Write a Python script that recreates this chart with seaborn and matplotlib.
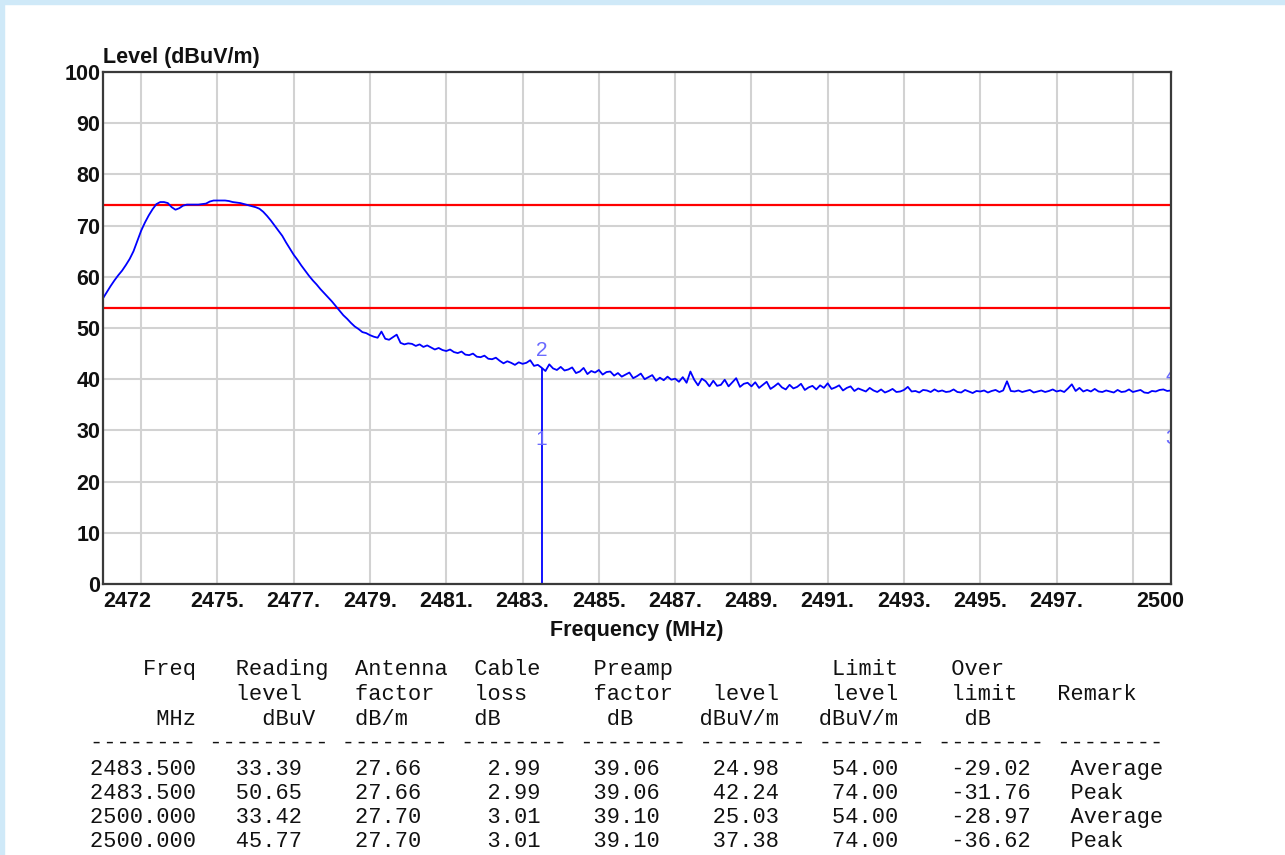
import numpy as np
import matplotlib
matplotlib.use("Agg")
import matplotlib.pyplot as plt
from matplotlib.patches import Rectangle
from matplotlib.transforms import ScaledTranslation
import seaborn as sns

# ---- sweep: 2472.0 .. 2500.0 MHz, 0.1 MHz steps ----
sweep_start = 2472.0
sweep_step = 0.1
trace_level = [
    55.8, 57.0, 58.2, 59.3, 60.3, 61.2, 62.3, 63.5, 65.0, 67.0,   # 2472
    69.0, 70.6, 72.0, 73.2, 74.2, 74.6, 74.6, 74.4, 73.6, 73.1,   # 2473
    73.4, 73.9, 74.1, 74.1, 74.1, 74.1, 74.2, 74.3, 74.7, 74.9,   # 2474
    74.9, 74.9, 74.9, 74.8, 74.6, 74.5, 74.4, 74.2, 74.0, 73.8,   # 2475
    73.6, 73.3, 72.7, 71.9, 71.0, 70.0, 69.0, 68.0, 66.7, 65.5,   # 2476
    64.3, 63.3, 62.2, 61.2, 60.2, 59.3, 58.5, 57.6, 56.8, 56.0,   # 2477
    55.2, 54.3, 53.4, 52.5, 51.8, 51.0, 50.3, 49.8, 49.2, 49.0,   # 2478
    48.6, 48.3, 48.1, 49.3, 47.9, 47.7, 48.2, 48.7, 47.1, 46.8,   # 2479
    47.0, 46.9, 46.5, 46.8, 46.3, 46.6, 46.2, 45.8, 46.1, 45.7,   # 2480
    45.5, 45.8, 45.3, 45.1, 45.4, 44.8, 44.7, 45.0, 44.4, 44.3,   # 2481
    44.6, 44.0, 43.9, 44.2, 43.6, 43.1, 43.5, 43.2, 42.8, 43.3,   # 2482
    43.0, 43.2, 43.7, 42.6, 42.8, 42.24, 41.6, 42.9, 42.1, 41.8,  # 2483
    42.4, 41.7, 41.9, 42.3, 41.2, 41.5, 42.2, 41.0, 41.6, 41.3,   # 2484
    41.8, 40.9, 41.4, 41.5, 40.7, 41.2, 40.5, 40.9, 41.3, 40.2,   # 2485
    40.6, 41.1, 40.0, 40.4, 40.8, 39.7, 40.3, 39.8, 40.5, 39.9,   # 2486
    40.1, 39.5, 40.4, 39.3, 41.5, 39.9, 38.8, 40.1, 39.6, 38.6,   # 2487
    39.7, 38.7, 38.9, 39.9, 38.6, 39.4, 40.2, 38.5, 39.1, 39.3,   # 2488
    38.6, 39.4, 38.3, 38.9, 39.5, 38.1, 38.6, 39.2, 38.4, 38.0,   # 2489
    38.9, 38.2, 38.5, 39.1, 37.9, 38.4, 38.7, 38.0, 38.8, 38.3,   # 2490
    39.2, 38.1, 38.4, 38.8, 37.8, 38.3, 38.6, 37.7, 38.2, 37.9,   # 2491
    37.6, 38.3, 37.8, 37.5, 38.0, 37.4, 37.7, 38.1, 37.5, 37.6,   # 2492
    37.9, 38.5, 37.6, 37.7, 37.4, 37.9, 37.8, 37.5, 38.0, 37.6,   # 2493
    37.8, 37.5, 37.6, 38.0, 37.5, 37.4, 37.9, 37.6, 37.3, 37.7,   # 2494
    37.6, 37.8, 37.4, 37.7, 37.9, 37.5, 37.8, 39.6, 37.7, 37.6,   # 2495
    37.8, 37.5, 37.7, 37.9, 37.4, 37.6, 37.8, 37.5, 37.7, 38.0,   # 2496
    37.6, 37.8, 37.5, 38.2, 39.0, 37.7, 38.3, 37.6, 37.9, 37.6,   # 2497
    38.1, 37.6, 37.5, 37.8, 37.6, 37.4, 37.9, 37.5, 37.6, 38.0,   # 2498
    37.5, 37.7, 37.9, 37.4, 37.3, 37.7, 37.6, 37.9, 38.0, 37.7,   # 2499
    37.8,                                                          # 2500
]
trace_freq = sweep_start + sweep_step * np.arange(len(trace_level))

# ---- marker table ----
marker_no = ["1", "2", "3", "4"]
freq_mhz = [2483.500, 2483.500, 2500.000, 2500.000]
reading_dbuv = [33.39, 50.65, 33.42, 45.77]
antenna_factor = [27.66, 27.66, 27.70, 27.70]
cable_loss = [2.99, 2.99, 3.01, 3.01]
preamp_factor = [39.06, 39.06, 39.10, 39.10]
level_dbuvm = [24.98, 42.24, 25.03, 37.38]
limit_dbuvm = [54.00, 74.00, 54.00, 74.00]
over_limit = [-29.02, -31.76, -28.97, -36.62]
remark = ["Average", "Peak", "Average", "Peak"]

# ---- axis ticks ----
y_ticks = list(range(0, 101, 10))
x_ticks = [2472, 2473, 2475, 2477, 2479, 2481, 2483, 2485, 2487, 2489,
           2491, 2493, 2495, 2497, 2499, 2500]
x_tick_labels = ["2472", "", "2475.", "2477.", "2479.", "2481.", "2483.",
                 "2485.", "2487.", "2489.", "2491.", "2493.", "2495.",
                 "2497.", "", "2500"]

W, H = 1285, 855
sns.set_style("white")
plt.rcParams["font.family"] = ["Liberation Sans", "DejaVu Sans"]

fig = plt.figure(figsize=(W / 100, H / 100), dpi=100)
fig.patch.set_facecolor("white")

# pale blue page edge
edge = "#cfe9f8"
fig.patches.append(Rectangle((0, 0), 4 / W, 1, transform=fig.transFigure,
                             color=edge, zorder=0))
fig.patches.append(Rectangle((0, 1 - 4 / H), 1, 4 / H, transform=fig.transFigure,
                             color=edge, zorder=0))

ax = fig.add_axes([103 / W, 1 - 584 / H, (1171 - 103) / W, (584 - 72) / H])
ax.set_facecolor("white")

blue = "#0000ff"
sns.lineplot(x=trace_freq, y=trace_level, ax=ax, color=blue, lw=1.3,
             estimator=None, zorder=4)

# band-edge marker drop line
ax.vlines(freq_mhz[1], 0, level_dbuvm[1], color=blue, lw=1.3, zorder=4)

# limit lines
for lim in sorted(set(limit_dbuvm)):
    ax.axhline(lim, color="#ff0000", lw=1.6, zorder=3)

# marker numbers
for no, f, lv in zip(marker_no, freq_mhz, level_dbuvm):
    ax.text(f, lv + 3.3, no, color="#6a6aff", fontsize=15, ha="center",
            va="center", zorder=5, clip_on=True)

ax.set_xlim(2472, 2500)
ax.set_ylim(0, 100)
ax.set_xticks(x_ticks)
ax.set_xticklabels(x_tick_labels)
ax.set_yticks(y_ticks)
ax.set_yticklabels([str(v) for v in y_ticks])
ax.grid(True, color="#d2d2d2", lw=1.5, zorder=0)
ax.set_axisbelow(True)
ax.tick_params(axis="both", length=0, labelsize=15.5, labelcolor="#111111")
ax.tick_params(axis="x", pad=5)
ax.tick_params(axis="y", pad=2)
for lab in ax.get_xticklabels() + ax.get_yticklabels():
    lab.set_fontweight("bold")

xl = ax.get_xticklabels()
xl[0].set_horizontalalignment("left")
xl[-1].set_transform(xl[-1].get_transform()
                     + ScaledTranslation(-11 / 100, 0, fig.dpi_scale_trans))

for s in ax.spines.values():
    s.set_color("#3a3a3a")
    s.set_linewidth(1.6)
    s.set_zorder(6)

ax.set_xlabel("Frequency (MHz)", fontsize=15.5, fontweight="bold",
              color="#111111", labelpad=6)
ax.set_ylabel("")
fig.text(103 / W, 1 - 57 / H, "Level (dBuV/m)", fontsize=15.5,
         fontweight="bold", color="#111111", ha="left", va="center")

# ---- text table in fixed-width columns ----
def row(cells):
    width = max(c + len(t) for c, t in cells)
    chars = [" "] * width
    for c, t in cells:
        chars[c:c + len(t)] = list(t)
    return "".join(chars)

header_lines = [
    row([(4, "Freq"), (11, "Reading"), (20, "Antenna"), (29, "Cable"),
         (38, "Preamp"), (56, "Limit"), (65, "Over")]),
    row([(11, "level"), (20, "factor"), (29, "loss"), (38, "factor"),
         (47, "level"), (56, "level"), (65, "limit"), (73, "Remark")]),
    row([(5, "MHz"), (13, "dBuV"), (20, "dB/m"), (29, "dB"), (39, "dB"),
         (46, "dBuV/m"), (55, "dBuV/m"), (66, "dB")]),
    row([(0, "-" * 8), (9, "-" * 9), (19, "-" * 8), (28, "-" * 8),
         (37, "-" * 8), (46, "-" * 8), (55, "-" * 8), (64, "-" * 8),
         (73, "-" * 8)]),
]
data_lines = []
for i in range(len(freq_mhz)):
    data_lines.append(row([
        (0, f"{freq_mhz[i]:8.3f}"),
        (11, f"{reading_dbuv[i]:.2f}"),
        (20, f"{antenna_factor[i]:.2f}"),
        (29, f"{cable_loss[i]:5.2f}"),
        (38, f"{preamp_factor[i]:.2f}"),
        (47, f"{level_dbuvm[i]:.2f}"),
        (56, f"{limit_dbuvm[i]:.2f}"),
        (64, f"{over_limit[i]:7.2f}"),
        (74, remark[i]),
    ]))

line_y = [670, 694, 719, 743, 769, 793, 817, 841]
for text, yp in zip(header_lines + data_lines, line_y):
    fig.text(90 / W, 1 - yp / H, text, family=["Liberation Mono", "DejaVu Sans Mono"],
             fontsize=15.8, color="#111111", ha="left", va="center")

fig.savefig("out.png", dpi=100, facecolor="white")
